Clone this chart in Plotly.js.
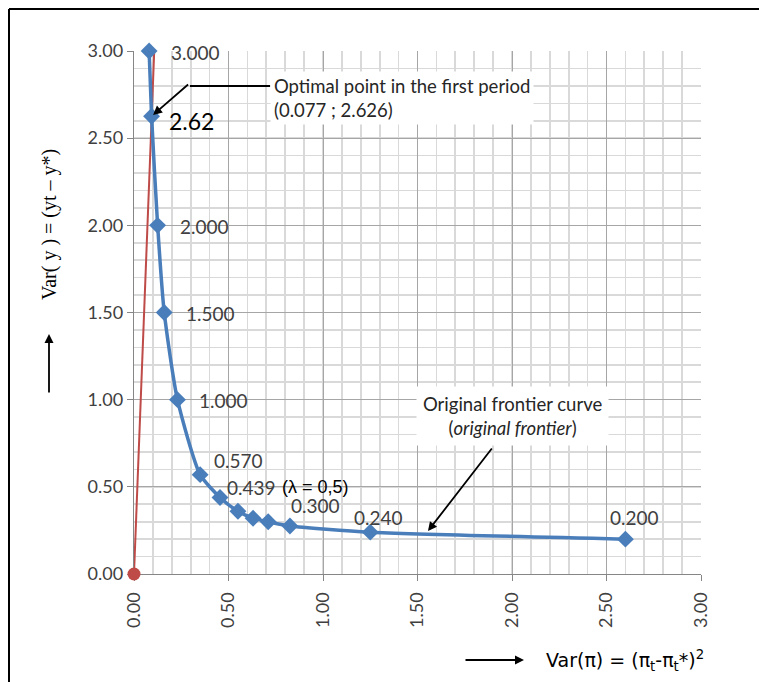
<!DOCTYPE html>
<html>
<head>
<meta charset="utf-8">
<script src="https://cdn.plot.ly/plotly-3.0.1.min.js"></script>
<style>html,body{margin:0;padding:0;background:#fff;}#chart{width:759px;height:682px;}</style>
</head>
<body>
<div id="chart"></div>
<script>
// ---- data ----
const frontierX = [0.08, 0.093, 0.125, 0.16, 0.23, 0.35, 0.455, 0.55, 0.63, 0.71, 0.825, 1.25, 2.60];
const frontierY = [3.000, 2.626, 2.000, 1.500, 1.000, 0.570, 0.439, 0.36, 0.32, 0.300, 0.275, 0.240, 0.200];
const frontierLabels = ["3.000", "", "2.000", "1.500", "1.000", "0.570", "0.439", "", "", "0.300", "", "0.240", "0.200"];
const rayX = [0, 0.107];
const rayY = [0, 3.0];
const originX = [0];
const originY = [0];
const optimalPoint = {x: 0.077, y: 2.626};
const optimalShort = "2.62";
const xTicks = [0, 0.5, 1.0, 1.5, 2.0, 2.5, 3.0];
const yTicks = [0, 0.5, 1.0, 1.5, 2.0, 2.5, 3.0];

// ---- layout helpers (pixel -> paper) ----
const L = 134, R = 701, T = 51, B = 574;
const px = p => (p - L) / (R - L);
const py = p => (B - p) / (B - T);

// label offsets (xshift, yshift) per labelled point, style only
const labelOffsets = {0:[20,-1],2:[20,-1],3:[20,-1],4:[20,-1],5:[12,14],6:[5,10],9:[21,16],11:[-18,15],12:[-17,22]};

const labelFont = {family: 'Lato, "Open Sans", sans-serif', size: 19, color: '#404040'};

const annotations = [];
frontierLabels.forEach((t, i) => {
  if (!t) return;
  const o = labelOffsets[i] || [20, 0];
  annotations.push({x: frontierX[i], y: frontierY[i], xref: 'x', yref: 'y', text: t, showarrow: false,
    xanchor: 'left', yanchor: 'middle', xshift: o[0], yshift: o[1], font: labelFont});
});
// lambda note after 0.439
annotations.push({x: frontierX[6], y: frontierY[6], xref: 'x', yref: 'y', text: '(λ = 0,5)', showarrow: false,
  xanchor: 'left', yanchor: 'middle', xshift: 60, yshift: 10,
  font: {family: '"Liberation Sans", Arial, sans-serif', size: 18, color: '#000'}});
// 2.62 big
annotations.push({x: frontierX[1], y: frontierY[1], xref: 'x', yref: 'y', text: optimalShort, showarrow: false,
  xanchor: 'left', yanchor: 'middle', xshift: 15, yshift: -5,
  font: {family: 'Lato, "Open Sans", sans-serif', size: 23, color: '#000'}});
// optimal point callout
annotations.push({x: px(270), y: py(71), xref: 'paper', yref: 'paper', xanchor: 'left', yanchor: 'top',
  text: 'Optimal point in the first period<br>(' + optimalPoint.x.toFixed(3) + ' ; ' + optimalPoint.y.toFixed(3) + ')',
  align: 'left', showarrow: false, bgcolor: '#fff', borderpad: 3,
  font: {family: 'Lato, "Open Sans", sans-serif', size: 18.5, color: '#262626'}});
annotations.push({x: frontierX[1], y: frontierY[1], xref: 'x', yref: 'y', text: '', showarrow: true,
  ax: 38, ay: -33, arrowhead: 2, arrowsize: 1, arrowwidth: 1.8, arrowcolor: '#000', standoff: 2});
// frontier callout
annotations.push({x: px(512), y: py(386), xref: 'paper', yref: 'paper', xanchor: 'center', yanchor: 'top',
  text: 'Original frontier curve<br>(<i>original frontier</i>)', align: 'center', showarrow: false,
  bgcolor: '#fff', borderpad: 6,
  font: {family: 'Lato, "Open Sans", sans-serif', size: 18.5, color: '#262626'}});
annotations.push({x: px(428), y: py(531), xref: 'paper', yref: 'paper', text: '', showarrow: true,
  ax: 65, ay: -84, arrowhead: 2, arrowsize: 1, arrowwidth: 1.8, arrowcolor: '#000', standoff: 0});
// axis titles with arrows
annotations.push({x: px(49), y: py(225), xref: 'paper', yref: 'paper', xanchor: 'center', yanchor: 'middle',
  text: 'Var( y ) = (yt – y*)', textangle: -90,
  showarrow: false, font: {family: '"Liberation Serif", "Times New Roman", serif', size: 20, color: '#000'}});
annotations.push({x: px(49), y: py(334), xref: 'paper', yref: 'paper', text: '', showarrow: true,
  ax: 0, ay: 60, arrowhead: 2, arrowsize: 1, arrowwidth: 1.8, arrowcolor: '#000', standoff: 0});
annotations.push({x: px(544), y: py(660), xref: 'paper', yref: 'paper', xanchor: 'left', yanchor: 'middle',
  text: 'Var(π) = (π<sub>t</sub>-π<sub>t</sub>*)<sup>2</sup>', showarrow: false,
  font: {family: '"DejaVu Sans", sans-serif', size: 19, color: '#000'}});
annotations.push({x: px(524), y: py(660), xref: 'paper', yref: 'paper', text: '', showarrow: true,
  ax: -60, ay: 0, arrowhead: 2, arrowsize: 1, arrowwidth: 1.8, arrowcolor: '#000', standoff: 0});

const shapes = [
  // callout leader horizontal
  {type: 'line', xref: 'paper', yref: 'paper', x0: px(190), x1: px(270), y0: py(86), y1: py(86),
   line: {color: '#000', width: 1.8}},
  // outer frame (left + top)
  {type: 'line', xref: 'paper', yref: 'paper', x0: px(9), x1: px(9), y0: py(9), y1: py(690),
   line: {color: '#000', width: 2}},
  {type: 'line', xref: 'paper', yref: 'paper', x0: px(9), x1: px(770), y0: py(9), y1: py(9),
   line: {color: '#000', width: 2}}
];

const tickFont = {family: 'Lato, "Open Sans", sans-serif', size: 18, color: '#404040'};

const traces = [
  {x: rayX, y: rayY, type: 'scatter', mode: 'lines', cliponaxis: false,
   line: {color: '#BE4B48', width: 2}, hoverinfo: 'skip'},
  {x: originX, y: originY, type: 'scatter', mode: 'markers', cliponaxis: false,
   marker: {symbol: 'circle', size: 13, color: '#BE4B48', opacity: 1}, hoverinfo: 'skip'},
  {x: frontierX, y: frontierY, type: 'scatter', mode: 'lines+markers', cliponaxis: false,
   line: {color: '#4A7EBB', width: 3.5, shape: 'spline', smoothing: 0.6},
   marker: {symbol: 'diamond', size: 13, color: '#4A7EBB'}}
];

const layout = {
  width: 759, height: 682,
  margin: {l: L, r: 759 - R, t: T, b: 682 - B},
  paper_bgcolor: '#fff', plot_bgcolor: '#fff',
  showlegend: false,
  xaxis: {range: [0, 3], tickvals: xTicks, tickformat: '.2f', tickangle: -90, layer: 'below traces',
    showgrid: true, gridcolor: '#A6A6A6', gridwidth: 1,
    minor: {dtick: 0.1, showgrid: true, gridcolor: '#D9D9D9', gridwidth: 1.6},
    showline: true, linecolor: '#868686', linewidth: 1.2, ticks: 'outside', ticklen: 6, tickcolor: '#868686',
    zeroline: false, tickfont: tickFont, ticklabelstandoff: 4},
  yaxis: {range: [0, 3], tickvals: yTicks, tickformat: '.2f', layer: 'below traces',
    showgrid: true, gridcolor: '#A6A6A6', gridwidth: 1,
    minor: {dtick: 0.1, showgrid: true, gridcolor: '#D9D9D9', gridwidth: 1.6},
    showline: true, linecolor: '#868686', linewidth: 1.2, ticks: 'outside', ticklen: 6, tickcolor: '#868686',
    zeroline: false, tickfont: tickFont},
  annotations: annotations,
  shapes: shapes
};

Plotly.newPlot('chart', traces, layout, {staticPlot: true, displayModeBar: false});
</script>
</body>
</html>
